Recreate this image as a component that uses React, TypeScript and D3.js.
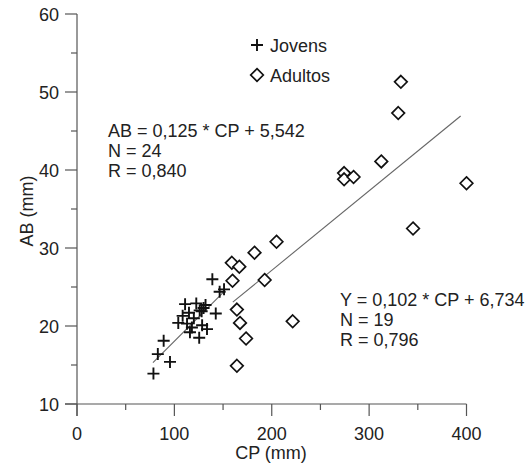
import React from 'react';
import * as d3 from 'd3';

// Jovens (juveniles): [CP, AB]
const jovens: [number, number][] = [
  [78.5, 13.9], [83, 16.4], [89, 18.1], [95.5, 15.4], [104, 20.4], [108.5, 21.3],
  [111, 22.8], [113, 20.3], [115, 21.7], [116, 19.2], [118, 19.8], [120, 21.0],
  [122.5, 22.9], [125.5, 18.5], [126, 22.0], [128, 21.9], [128.5, 20.1], [130, 22.3],
  [132, 22.7], [133.5, 19.6], [142.5, 21.6], [139, 26.0], [146.5, 24.4], [151, 24.7],
];

// Adultos: [CP, AB]
const adultos: [number, number][] = [
  [332.6, 51.3], [329.9, 47.3], [312.5, 41.1], [274.3, 39.6], [274.3, 38.8],
  [284, 39.1], [400, 38.3], [345.1, 32.5], [204.9, 30.8], [182.3, 29.4],
  [159, 28.1], [166.7, 27.6], [159.7, 25.8], [192.7, 25.9], [164.2, 22.1],
  [167.4, 20.4], [221.5, 20.6], [173.6, 18.4], [164.2, 14.9],
];

// regression lines: slope, intercept, CP range
const fitJovens = { slope: 0.125, intercept: 5.542, range: [78, 152] };
const fitAdultos = { slope: 0.102, intercept: 6.734, range: [160, 394] };

const xTicks = [0, 100, 200, 300, 400];
const xMinor = [50, 150, 250, 350];
const yTicks = [10, 20, 30, 40, 50, 60];
const yMinor = [15, 25, 35, 45, 55];

const eqJovens = ['AB = 0,125 * CP + 5,542', 'N = 24', 'R = 0,840'];
const eqAdultos = ['Y = 0,102 * CP + 6,734', 'N = 19', 'R = 0,796'];

const FONT = 'Liberation Sans, Arial, sans-serif';
const AXIS = '#555';
const TEXT = '#222';

export default function App() {
  const width = 529;
  const height = 466;
  const x = d3.scaleLinear().domain([0, 400]).range([77, 466.5]);
  const y = d3.scaleLinear().domain([10, 60]).range([404, 14]);
  const x0 = x(0);
  const y0 = y(10);

  const fitLine = (f: { slope: number; intercept: number; range: number[] }) =>
    d3.line<number>()
      .x(d => x(d))
      .y(d => y(f.slope * d + f.intercept))(f.range) || '';

  const plus = (cx: number, cy: number, key: string | number) => (
    <path key={key} d={`M${cx - 6},${cy}H${cx + 6}M${cx},${cy - 6}V${cy + 6}`}
      stroke="#111" strokeWidth={1.9} fill="none" />
  );
  const diamond = (cx: number, cy: number, key: string | number) => (
    <path key={key} d={`M${cx},${cy - 6.3}L${cx + 6.3},${cy}L${cx},${cy + 6.3}L${cx - 6.3},${cy}Z`}
      stroke="#111" strokeWidth={1.7} fill="white" />
  );

  return (
    <div style={{ position: 'absolute', left: 0, top: 0 }}>
      <svg width={width} height={height} style={{ display: 'block', background: 'white' }}
        fontFamily={FONT}>
        {/* axes */}
        <line x1={x0 - 12} x2={x(400)} y1={y0} y2={y0} stroke={AXIS} strokeWidth={1.2} />
        <line x1={x0} x2={x0} y1={y(60)} y2={y0 + 12} stroke={AXIS} strokeWidth={1.2} />
        {xTicks.map(t => (
          <g key={'xt' + t}>
            <line x1={x(t)} x2={x(t)} y1={y0} y2={y0 + 12} stroke={AXIS} strokeWidth={1.2} />
            <text x={x(t)} y={440} textAnchor="middle" fontSize={18} fill={TEXT}>{t}</text>
          </g>
        ))}
        {xMinor.map(t => (
          <line key={'xm' + t} x1={x(t)} x2={x(t)} y1={y0} y2={y0 + 6} stroke={AXIS} strokeWidth={1.2} />
        ))}
        {yTicks.map(t => (
          <g key={'yt' + t}>
            <line x1={x0 - 12} x2={x0} y1={y(t)} y2={y(t)} stroke={AXIS} strokeWidth={1.2} />
            <text x={59} y={y(t) + 6.5} textAnchor="end" fontSize={18} fill={TEXT}>{t}</text>
          </g>
        ))}
        {yMinor.map(t => (
          <line key={'ym' + t} x1={x0 - 6} x2={x0} y1={y(t)} y2={y(t)} stroke={AXIS} strokeWidth={1.2} />
        ))}
        <text x={271} y={459} textAnchor="middle" fontSize={18} fill={TEXT}>CP (mm)</text>
        <text transform="translate(33,211) rotate(-90)" textAnchor="middle" fontSize={18} fill={TEXT}>AB (mm)</text>

        {/* regression lines */}
        <path d={fitLine(fitJovens)} stroke="#666" strokeWidth={1.1} fill="none" />
        <path d={fitLine(fitAdultos)} stroke="#666" strokeWidth={1.1} fill="none" />

        {/* points */}
        {adultos.map((d, i) => diamond(x(d[0]), y(d[1]), 'a' + i))}
        {jovens.map((d, i) => plus(x(d[0]), y(d[1]), 'j' + i))}

        {/* legend */}
        {plus(257, 45, 'lj')}
        <text x={270} y={52} fontSize={18} fill={TEXT}>Jovens</text>
        {diamond(257, 75, 'la')}
        <text x={270} y={82} fontSize={18} fill={TEXT}>Adultos</text>

        {/* equations */}
        {eqJovens.map((s, i) => (
          <text key={'ej' + i} x={108} y={137 + i * 20} fontSize={18} fill={TEXT}>{s}</text>
        ))}
        {eqAdultos.map((s, i) => (
          <text key={'ea' + i} x={340} y={306 + i * 20} fontSize={18} fill={TEXT}>{s}</text>
        ))}
      </svg>
    </div>
  );
}
